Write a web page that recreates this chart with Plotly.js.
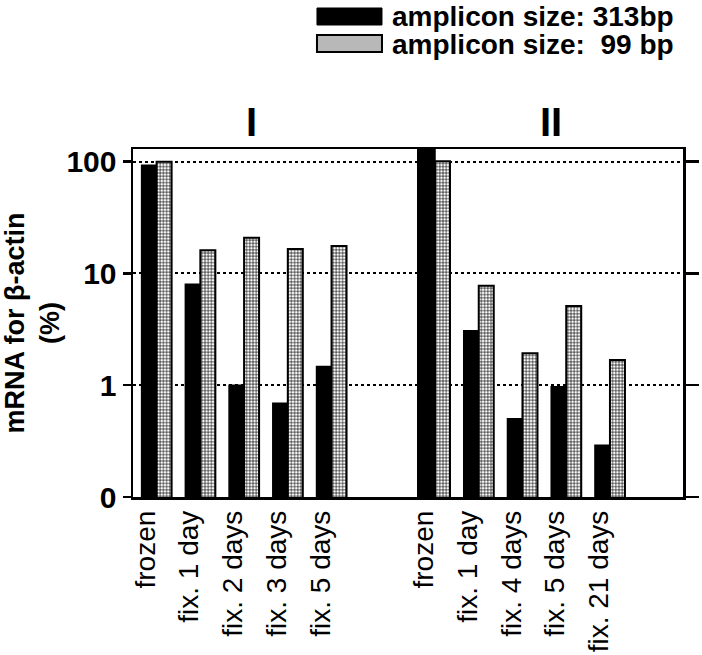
<!DOCTYPE html>
<html>
<head>
<meta charset="utf-8">
<script src="https://cdn.plot.ly/plotly-3.0.1.min.js"></script>
<style>html,body{margin:0;padding:0;background:#fff;}#chart{width:702px;height:655px;}</style>
</head>
<body>
<div id="chart"></div>
<script>
// ---- data ----
const categoriesI = ['frozen', 'fix. 1 day', 'fix. 2 days', 'fix. 3 days', 'fix. 5 days'];
const categoriesII = ['frozen', 'fix. 1 day', 'fix. 4 days', 'fix. 5 days', 'fix. 21 days'];
const amp313_I = [93, 8.0, 1.0, 0.69, 1.47];
const amp99_I = [100, 16.1, 20.8, 16.5, 17.6];
const amp313_II = [150, 3.07, 0.5, 0.97, 0.29];
const amp99_II = [101, 7.75, 1.93, 5.1, 1.68];
const seriesNames = ['amplicon size: 313bp', 'amplicon size:\u00A0\u00A099 bp'];
const yTickVals = [0.1, 1, 10, 100];
const yTickText = ['0', '1', '10', '100'];
const panelLabels = ['I', 'II'];

const FONT = 'Liberation Sans, Arial, Helvetica, sans-serif';
const solid = {color: '#000', line: {color: '#000', width: 1.5}};
const hatched = {color: '#fff', line: {color: '#000', width: 2},
  pattern: {shape: '+', fgcolor: '#000', bgcolor: '#fff', size: 3.2, solidity: 0.35}};

const traces = [
  {type: 'bar', x: categoriesI, y: amp313_I, name: seriesNames[0], marker: solid, xaxis: 'x', yaxis: 'y', showlegend: false},
  {type: 'bar', x: categoriesI, y: amp99_I, name: seriesNames[1], marker: hatched, xaxis: 'x', yaxis: 'y', showlegend: false},
  {type: 'bar', x: categoriesII, y: amp313_II, name: seriesNames[0], marker: solid, xaxis: 'x2', yaxis: 'y2', showlegend: false},
  {type: 'bar', x: categoriesII, y: amp99_II, name: seriesNames[1], marker: hatched, xaxis: 'x2', yaxis: 'y2', showlegend: false}
];

const xCommon = {
  type: 'category', showline: true, linecolor: '#000', linewidth: 2.5, mirror: true,
  ticks: '', tickangle: -90, ticklabelshift: -11,
  tickfont: {family: FONT, size: 28, color: '#000'}, showgrid: false, zeroline: false, fixedrange: true
};
const yCommon = {
  type: 'log', range: [-1, 2.113], tickvals: yTickVals, ticktext: yTickText,
  showline: true, linecolor: '#000', linewidth: 2.5, mirror: true, ticks: 'outside', tickcolor: '#000', tickwidth: 2.5,
  showgrid: true, gridcolor: '#000', gridwidth: 2, griddash: 'dot', zeroline: false, fixedrange: true
};

const layout = {
  width: 702, height: 655,
  margin: {l: 133, r: 19, t: 149, b: 158},
  paper_bgcolor: '#fff', plot_bgcolor: '#fff',
  barmode: 'group', bargap: 0.314, bargroupgap: 0,
  font: {family: FONT, color: '#000'},
  showlegend: false,
  xaxis: Object.assign({}, xCommon, {domain: [0, 0.52], range: [-0.54, 6.0], anchor: 'y'}),
  xaxis2: Object.assign({}, xCommon, {domain: [0.52, 1], range: [-0.366, 5.67], anchor: 'y2'}),
  yaxis: Object.assign({}, yCommon, {anchor: 'x', ticklen: 8,
    tickfont: {family: FONT, size: 30, color: '#000', weight: 'bold'},
    title: {text: 'mRNA for β-actin<br>(%)', standoff: 4, font: {family: FONT, size: 27, color: '#000', weight: 'bold'}}}),
  yaxis2: Object.assign({}, yCommon, {anchor: 'x2', side: 'right', ticklen: 13, showticklabels: false}),
  annotations: [
    {text: panelLabels[0], xref: 'paper', yref: 'paper', x: 0.215, y: 1.078, xanchor: 'center', yanchor: 'middle', showarrow: false,
      font: {family: FONT, size: 40, color: '#000', weight: 'bold'}},
    {text: panelLabels[1], xref: 'paper', yref: 'paper', x: 0.76, y: 1.078, xanchor: 'center', yanchor: 'middle', showarrow: false,
      font: {family: FONT, size: 40, color: '#000', weight: 'bold'}},
    {text: seriesNames[0], xref: 'paper', yref: 'paper', x: 0.4673, y: 1.382, xanchor: 'left', yanchor: 'middle', showarrow: false,
      font: {family: FONT, size: 28, color: '#000', weight: 'bold'}},
    {text: seriesNames[1], xref: 'paper', yref: 'paper', x: 0.4673, y: 1.299, xanchor: 'left', yanchor: 'middle', showarrow: false,
      font: {family: FONT, size: 28, color: '#000', weight: 'bold'}}
  ],
  shapes: [
    {type: 'rect', xref: 'paper', yref: 'paper', x0: 0.3345, x1: 0.4527, y0: 1.3563, y1: 1.4052,
      fillcolor: '#000', line: {color: '#000', width: 1}},
    {type: 'rect', xref: 'paper', yref: 'paper', x0: 0.3345, x1: 0.4527, y0: 1.2787, y1: 1.3276,
      fillcolor: '#b8b8b8', line: {color: '#000', width: 2}}
  ]
};

Plotly.newPlot('chart', traces, layout, {staticPlot: true, displayModeBar: false});
</script>
</body>
</html>
